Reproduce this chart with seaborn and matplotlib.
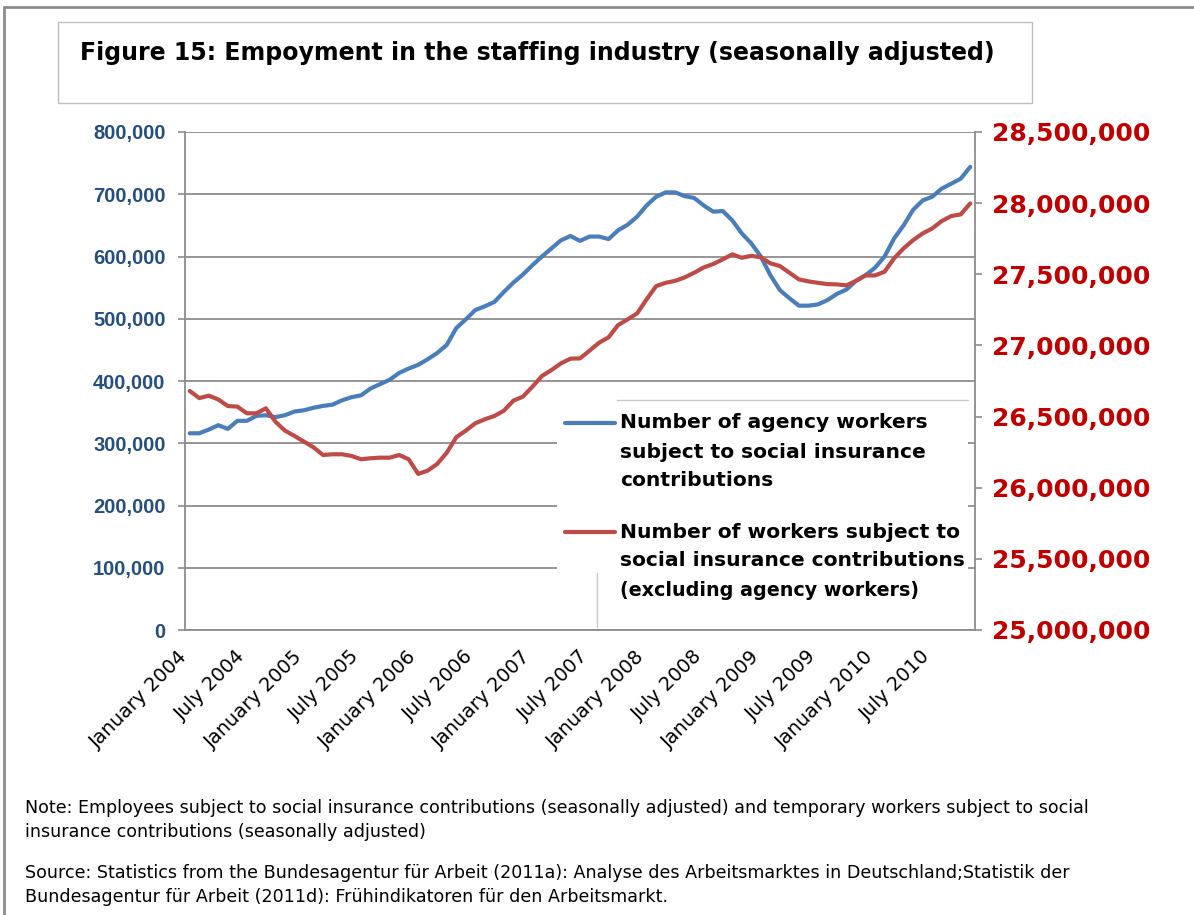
import numpy as np
import pandas as pd
import matplotlib
matplotlib.use("Agg")
import matplotlib.pyplot as plt
from matplotlib.lines import Line2D
from matplotlib.patches import Rectangle
from matplotlib.ticker import FuncFormatter, MultipleLocator
import seaborn as sns

# monthly data, January 2004 - November 2010
months = pd.date_range("2004-01-01", periods=83, freq="MS")

# agency workers (thousands, left axis)
agency_k = [316, 316, 322, 329, 323, 336, 336, 344, 345, 342,
            345, 351, 353, 357, 360, 362, 369, 374, 377, 388,
            395, 402, 413, 420, 426, 435, 445, 458, 485, 499,
            514, 520, 527, 543, 558, 571, 586, 600, 613, 626,
            633, 625, 632, 632, 628, 642, 651, 664, 682, 696,
            703, 703, 697, 694, 682, 672, 673, 658, 637, 621,
            600, 570, 546, 533, 521, 521, 523, 530, 540, 547,
            561, 570, 582, 600, 629, 650, 675, 690, 696, 709,
            717, 725, 744]

# other workers subject to social insurance (millions, right axis)
others_m = [26.680, 26.630, 26.647, 26.620, 26.574, 26.570, 26.523, 26.523, 26.558, 26.464,
            26.401, 26.364, 26.324, 26.284, 26.230, 26.235, 26.235, 26.223, 26.200, 26.207,
            26.211, 26.211, 26.230, 26.200, 26.097, 26.120, 26.167, 26.246, 26.355, 26.401,
            26.453, 26.481, 26.504, 26.541, 26.612, 26.640, 26.710, 26.785, 26.827, 26.874,
            26.907, 26.909, 26.963, 27.019, 27.057, 27.143, 27.183, 27.225, 27.324, 27.417,
            27.440, 27.454, 27.478, 27.511, 27.548, 27.572, 27.605, 27.640, 27.616, 27.630,
            27.619, 27.577, 27.558, 27.511, 27.464, 27.450, 27.440, 27.431, 27.429, 27.422,
            27.454, 27.492, 27.492, 27.518, 27.612, 27.682, 27.740, 27.787, 27.822, 27.874,
            27.909, 27.921, 27.998]

tick_labels = ["January 2004", "July 2004", "January 2005", "July 2005",
               "January 2006", "July 2006", "January 2007", "July 2007",
               "January 2008", "July 2008", "January 2009", "July 2009",
               "January 2010", "July 2010"]

df = pd.DataFrame({
    "idx": np.arange(len(months)),
    "agency": np.array(agency_k) * 1000,
    "others": np.array(others_m) * 1e6,
})

sns.set_style("white")
plt.rcParams["font.family"] = ["DejaVu Sans"]

BLUE = "#4A7EBB"
RED = "#BE4B48"
GRID = "#8C8C8C"

fig = plt.figure(figsize=(11.94, 9.15), dpi=100)
ax = fig.add_axes([185 / 1194, 1 - 630 / 915, 790 / 1194, 498 / 915])
ax2 = ax.twinx()

sns.lineplot(data=df, x="idx", y="agency", ax=ax, color=BLUE, lw=3, legend=False)
sns.lineplot(data=df, x="idx", y="others", ax=ax2, color=RED, lw=3, legend=False)

ax.set_xlim(-0.5, len(months) - 0.5)
ax.set_ylim(0, 800000)
ax2.set_ylim(25e6, 28.5e6)
ax.yaxis.set_major_locator(MultipleLocator(100000))
ax2.yaxis.set_major_locator(MultipleLocator(500000))
comma = FuncFormatter(lambda v, p: f"{int(round(v)):,}")
ax.yaxis.set_major_formatter(comma)
ax2.yaxis.set_major_formatter(comma)

ax.set_xlabel("")
ax.set_ylabel("")
ax2.set_ylabel("")

ax.yaxis.grid(True, color=GRID, lw=1.3)
ax.xaxis.grid(False)
ax.set_axisbelow(True)

for s in ["top", "right"]:
    ax.spines[s].set_visible(False)
for s in ["top", "left", "bottom"]:
    ax2.spines[s].set_visible(False)
for sp in [ax.spines["left"], ax.spines["bottom"], ax2.spines["right"]]:
    sp.set_color(GRID)
    sp.set_linewidth(1.3)

ax.set_xticks(np.arange(0, 79, 6) - 0.5)
ax.set_xticklabels(tick_labels, rotation=45, ha="right", va="center",
                   rotation_mode="anchor", fontsize=14, color="black")
ax.tick_params(axis="x", direction="out", length=6, width=1.2, color=GRID, pad=11)
ax.tick_params(axis="y", direction="out", length=5, width=1.2, color=GRID, pad=9,
               labelcolor="#254F7F")
ax2.tick_params(axis="y", direction="out", length=5, width=1.2, color=GRID, pad=7,
                labelcolor="#C00000")
for lab in ax.get_yticklabels():
    lab.set_fontfamily("Liberation Sans")
    lab.set_fontweight("bold")
    lab.set_fontsize(14.5)
for lab in ax2.get_yticklabels():
    lab.set_fontweight("bold")
    lab.set_fontsize(18)

# legend box inside the plot area
tr = ax2.transAxes
ax2.add_patch(Rectangle((0.471, 0.004), 0.52, 0.458, transform=tr,
                        facecolor="white", edgecolor="none", zorder=3))
ax2.add_line(Line2D([0.547, 0.991], [0.462, 0.462], transform=tr,
                    color="#C8C8C8", lw=1, zorder=4))
ax2.add_line(Line2D([0.522, 0.522], [0.006, 0.115], transform=tr,
                    color="#C8C8C8", lw=1, zorder=4))

def to_ax(px, py):
    return (px - 185) / 790, (630 - py) / 498

entries = [
    (BLUE, [("Number of agency workers", 423, 14.6),
            ("subject to social insurance", 453, 14.6),
            ("contributions", 480, 14.6)]),
    (RED, [("Number of workers subject to", 532, 14.6),
           ("social insurance contributions", 561, 14.6),
           ("(excluding agency workers)", 590, 13.8)]),
]
for col, lines in entries:
    hx0, hy = to_ax(565, lines[0][1])
    hx1, _ = to_ax(615, lines[0][1])
    ax2.add_line(Line2D([hx0, hx1], [hy, hy], transform=tr, color=col, lw=3, zorder=5))
    for txt, py, fs in lines:
        tx, ty = to_ax(620, py)
        ax2.text(tx, ty, txt, transform=tr, ha="left", va="center",
                 fontsize=fs, fontweight="bold", color="black", zorder=5)

# title box
fig.add_artist(Rectangle((58 / 1194, 1 - 103 / 915), 974 / 1194, 81 / 915,
                         transform=fig.transFigure, facecolor="none",
                         edgecolor="#BFBFBF", lw=1))
fig.text(80 / 1194, 1 - 53 / 915,
         "Figure 15: Empoyment in the staffing industry (seasonally adjusted)",
         ha="left", va="center", fontsize=17, fontweight="bold", color="black")

# outer frame (top and left edges)
fig.add_artist(Line2D([4 / 1194, 1], [1 - 7 / 915, 1 - 7 / 915],
                      transform=fig.transFigure, color="#8C8C8C", lw=2))
fig.add_artist(Line2D([4 / 1194, 4 / 1194], [0, 1 - 7 / 915],
                      transform=fig.transFigure, color="#8C8C8C", lw=2))

notes = [
    ("Note: Employees subject to social insurance contributions (seasonally adjusted) and temporary workers subject to social", 808),
    ("insurance contributions (seasonally adjusted)", 832),
    ("Source: Statistics from the Bundesagentur für Arbeit (2011a): Analyse des Arbeitsmarktes in Deutschland;Statistik der", 873),
    ("Bundesagentur für Arbeit (2011d): Frühindikatoren für den Arbeitsmarkt.", 897),
]
for txt, py in notes:
    fig.text(25 / 1194, 1 - py / 915, txt, ha="left", va="center",
             fontsize=12.6, color="black")

fig.savefig("out.png", dpi=100)
